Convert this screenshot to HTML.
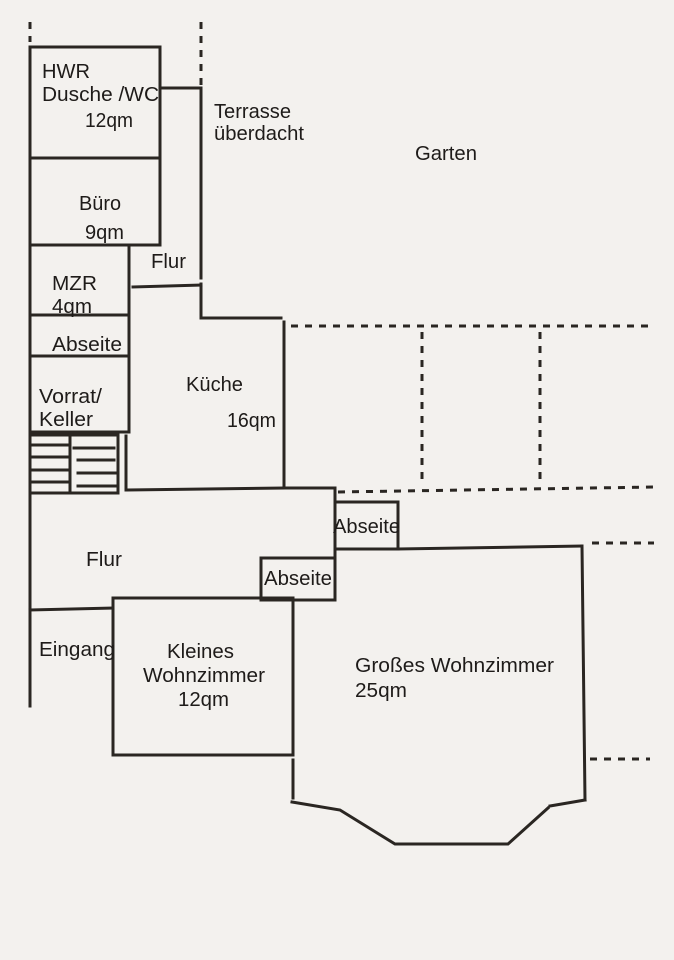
<!DOCTYPE html>
<html><head><meta charset="utf-8"><style>
html,body{margin:0;padding:0;background:#f3f1ee;}
svg{display:block}
text{font-family:"Liberation Sans",sans-serif;font-size:20px;fill:#1e1b19}
</style></head><body>
<svg width="674" height="960" viewBox="0 0 674 960">
<rect width="674" height="960" fill="#f3f1ee"/>
<g stroke="#2a2622" stroke-width="3" fill="none" stroke-linecap="square">
<rect x="30" y="47" width="130" height="111"/>
<line x1="30" y1="158" x2="30" y2="495"/>
<line x1="160" y1="158" x2="160" y2="245"/>
<line x1="30" y1="245" x2="160" y2="245"/>
<line x1="160" y1="88" x2="201" y2="88"/>
<line x1="201" y1="88" x2="201" y2="278"/>
<line x1="201" y1="284" x2="201" y2="318"/>
<line x1="201" y1="318" x2="281" y2="318"/>
<line x1="129" y1="245" x2="129" y2="432"/>
<line x1="133" y1="287" x2="201" y2="285"/>
<line x1="30" y1="315" x2="129" y2="315"/>
<line x1="30" y1="356" x2="129" y2="356"/>
<line x1="30" y1="432" x2="129" y2="432"/>
<rect x="30" y="435" width="88" height="58"/>
<line x1="70" y1="435" x2="70" y2="493"/>
<line x1="32" y1="445" x2="68" y2="445"/><line x1="74" y1="448" x2="114" y2="448"/>
<line x1="32" y1="457" x2="68" y2="457"/><line x1="78" y1="460" x2="114" y2="460"/>
<line x1="32" y1="470" x2="68" y2="470"/><line x1="78" y1="473" x2="116" y2="473"/>
<line x1="32" y1="482" x2="68" y2="482"/><line x1="78" y1="486" x2="116" y2="486"/>
<line x1="126" y1="436" x2="126" y2="490"/>
<line x1="126" y1="490" x2="284" y2="488"/>
<line x1="284" y1="322" x2="284" y2="488"/>
<line x1="284" y1="488" x2="335" y2="488"/>
<line x1="30" y1="495" x2="30" y2="706"/>
<line x1="335" y1="488" x2="335" y2="600"/>
<rect x="335" y="502" width="63" height="47"/>
<line x1="398" y1="549" x2="582" y2="546"/>
<line x1="582" y1="546" x2="585" y2="800"/>
<rect x="261" y="558" width="74" height="42"/>
<line x1="30" y1="610" x2="113" y2="608"/>
<rect x="113" y="598" width="180" height="157"/>
<line x1="293" y1="598" x2="293" y2="645"/>
<line x1="293" y1="675" x2="293" y2="688"/>
<line x1="293" y1="760" x2="293" y2="798"/>
<polyline points="292,802 340,810 395,844 508,844 548,808"/>
<line x1="550" y1="806" x2="585" y2="800"/>
</g>
<g stroke="#2a2622" stroke-width="3" fill="none" stroke-dasharray="7,7">
<line x1="30" y1="22" x2="30" y2="42"/>
<line x1="201" y1="22" x2="201" y2="86"/>
<line x1="291" y1="326" x2="650" y2="326"/>
<line x1="422" y1="332" x2="422" y2="485"/>
<line x1="540" y1="332" x2="540" y2="485"/>
<line x1="338" y1="492" x2="655" y2="487"/>
<line x1="592" y1="543" x2="654" y2="543"/>
<line x1="590" y1="759" x2="650" y2="759"/>
</g>
<g>
<text x="42" y="78" textLength="48" lengthAdjust="spacingAndGlyphs">HWR</text>
<text x="42" y="101" textLength="117" lengthAdjust="spacingAndGlyphs">Dusche /WC</text>
<text x="85" y="127" textLength="48" lengthAdjust="spacingAndGlyphs">12qm</text>
<text x="214" y="118" textLength="77" lengthAdjust="spacingAndGlyphs">Terrasse</text>
<text x="214" y="140" textLength="90" lengthAdjust="spacingAndGlyphs">überdacht</text>
<text x="415" y="160" textLength="62" lengthAdjust="spacingAndGlyphs">Garten</text>
<text x="79" y="210" textLength="42" lengthAdjust="spacingAndGlyphs">Büro</text>
<text x="85" y="239" textLength="39" lengthAdjust="spacingAndGlyphs">9qm</text>
<text x="151" y="268" textLength="35" lengthAdjust="spacingAndGlyphs">Flur</text>
<text x="52" y="290" textLength="45" lengthAdjust="spacingAndGlyphs">MZR</text>
<text x="52" y="313" textLength="40" lengthAdjust="spacingAndGlyphs">4qm</text>
<text x="52" y="351" textLength="70" lengthAdjust="spacingAndGlyphs">Abseite</text>
<text x="39" y="403" textLength="63" lengthAdjust="spacingAndGlyphs">Vorrat/</text>
<text x="39" y="426" textLength="54" lengthAdjust="spacingAndGlyphs">Keller</text>
<text x="186" y="391" textLength="57" lengthAdjust="spacingAndGlyphs">Küche</text>
<text x="227" y="427" textLength="49" lengthAdjust="spacingAndGlyphs">16qm</text>
<text x="333" y="533" textLength="67" lengthAdjust="spacingAndGlyphs">Abseite</text>
<text x="86" y="566" textLength="36" lengthAdjust="spacingAndGlyphs">Flur</text>
<text x="264" y="585" textLength="68" lengthAdjust="spacingAndGlyphs">Abseite</text>
<text x="39" y="656" textLength="76" lengthAdjust="spacingAndGlyphs">Eingang</text>
<text x="167" y="658" textLength="67" lengthAdjust="spacingAndGlyphs">Kleines</text>
<text x="143" y="682" textLength="122" lengthAdjust="spacingAndGlyphs">Wohnzimmer</text>
<text x="178" y="706" textLength="51" lengthAdjust="spacingAndGlyphs">12qm</text>
<text x="355" y="672" textLength="199" lengthAdjust="spacingAndGlyphs">Großes Wohnzimmer</text>
<text x="355" y="697" textLength="52" lengthAdjust="spacingAndGlyphs">25qm</text>
</g>
</svg>
</body></html>
